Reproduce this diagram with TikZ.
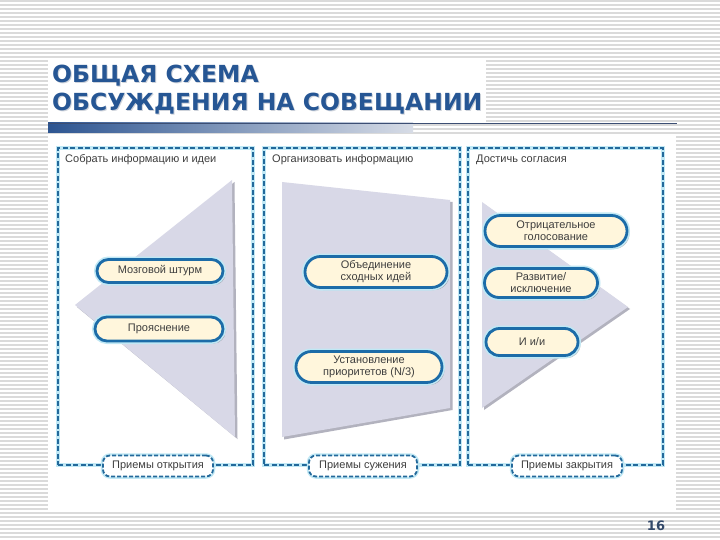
\documentclass[tikz,border=0pt]{standalone}
\usepackage{fontspec}
\setmainfont{Liberation Sans}
\newfontfamily\titlefont{DejaVu Sans}
\usetikzlibrary{shapes.misc}
\definecolor{stripe}{RGB}{218,218,218}
\definecolor{ttl}{RGB}{38,86,148}
\definecolor{ttlsh}{RGB}{205,210,218}
\definecolor{pnl}{RGB}{35,105,155}
\definecolor{glow}{RGB}{192,232,245}
\definecolor{shp}{RGB}{216,216,231}
\definecolor{shpsh}{RGB}{178,178,190}
\definecolor{pillfill}{RGB}{255,246,220}
\definecolor{pillbd}{RGB}{28,108,168}
\definecolor{txt}{RGB}{62,62,62}
\definecolor{barA}{RGB}{45,85,145}
\definecolor{barB}{RGB}{215,220,230}
\definecolor{rule}{RGB}{60,78,115}
\definecolor{pgnum}{RGB}{50,72,105}
\tikzset{
  panelbox/.style={draw=pnl, line width=1.8pt, dash pattern=on 5pt off 2.5pt,
    preaction={draw=glow, line width=4.5pt, solid}, inner sep=0pt},
  pill/.style={rounded rectangle, draw=pillbd, line width=2.8pt, fill=pillfill,
    preaction={fill=black, opacity=0.25, transform canvas={shift={(2.5,2.5)}}},
    preaction={draw=glow, line width=6pt},
    inner sep=0pt, align=center, text=txt, font=\fontsize{11}{12}\selectfont},
  tag/.style={rectangle, rounded corners=7pt, draw=pnl, line width=1.8pt,
    dash pattern=on 4pt off 2pt, fill=white,
    preaction={draw=glow, line width=4.5pt, solid},
    minimum height=21pt, inner sep=0pt, text=txt, font=\fontsize{11}{12}\selectfont},
  ptitle/.style={anchor=west, inner sep=0pt, text=txt, font=\fontsize{11}{12}\selectfont},
  bigtitle/.style={anchor=base west, inner sep=0pt, font=\titlefont\bfseries\fontsize{23.5}{27}\selectfont}
}
\begin{document}
\begin{tikzpicture}[x=1pt,y=-1pt]
\useasboundingbox (0,0) rectangle (720,540);
% background stripes
\fill[white] (0,0) rectangle (720,540);
\foreach \k in {0,...,135}{
  \draw[stripe, line width=1.2pt] (0,{\k*4+1}) -- (720,{\k*4+1});
}
\fill[white] (48,60) rectangle (486,123);
\fill[white] (48,134) rectangle (676,512);
% title
\node[bigtitle, text=ttlsh] at (53,84) {ОБЩАЯ СХЕМА};
\node[bigtitle, text=ttlsh] at (53,112) {ОБСУЖДЕНИЯ НА СОВЕЩАНИИ};
\node[bigtitle, text=ttl] (t1) at (52,83) {ОБЩАЯ СХЕМА};
\node[bigtitle, text=ttl] (t2) at (52,111) {ОБСУЖДЕНИЯ НА СОВЕЩАНИИ};
% rule
\shade[left color=barA, right color=barB] (48,123) rectangle (413,133);
\draw[rule, line width=1.2pt] (48,123.5) -- (677,123.5);
% panels
\node[panelbox, minimum width=195pt, minimum height=317pt] (p1) at (155.5,306.5) {};
\node[panelbox, minimum width=196pt, minimum height=317pt] (p2) at (362,306.5) {};
\node[panelbox, minimum width=195pt, minimum height=317pt] (p3) at (565.5,306.5) {};
\node[ptitle] (h1) at (65,160) {Собрать информацию и идеи};
\node[ptitle] (h2) at (272,160) {Организовать информацию};
\node[ptitle] (h3) at (476,160) {Достичь согласия};
% funnel shapes
\fill[shpsh] (234.5,182) -- (77,307) -- (237.5,439) -- cycle;
\fill[shp] (232,180) -- (75,305) -- (235,437) -- cycle;
\fill[shpsh] (284,184) -- (452.5,202) -- (452.5,410) -- (284,439.5) -- cycle;
\fill[shp] (282,182) -- (450,200) -- (450,408) -- (282,437) -- cycle;
\fill[shpsh] (484,204) -- (630,309) -- (484,410) -- cycle;
\fill[shp] (482,202) -- (628,307) -- (482,408) -- cycle;
% pills
\node[pill, minimum width=126pt, minimum height=23pt] (a1) at (160,271) {Мозговой штурм};
\node[pill, minimum width=128pt, minimum height=24pt] (a2) at (159,329) {Прояснение};
\node[pill, minimum width=142pt, minimum height=31pt] (b1) at (376,272) {Объединение\\сходных идей};
\node[pill, minimum width=146pt, minimum height=31pt] (b2) at (369,367) {Установление\\приоритетов (N/3)};
\node[pill, minimum width=142pt, minimum height=31pt] (c1) at (556,231) {Отрицательное\\голосование};
\node[pill, minimum width=113pt, minimum height=29pt] (c2) at (541,283) {Развитие/\\исключение};
\node[pill, minimum width=92pt, minimum height=27pt] (c3) at (532,342) {И и/и};
% bottom tags
\node[tag, minimum width=110pt] (l1) at (158,466) {Приемы открытия};
\node[tag, minimum width=108pt] (l2) at (363,466) {Приемы сужения};
\node[tag, minimum width=110pt] (l3) at (567,466) {Приемы закрытия};
% page number
\node[inner sep=0pt, text=pgnum, font=\titlefont\bfseries\fontsize{13}{15}\selectfont] (pn) at (656,526) {16};
\end{tikzpicture}
\end{document}
